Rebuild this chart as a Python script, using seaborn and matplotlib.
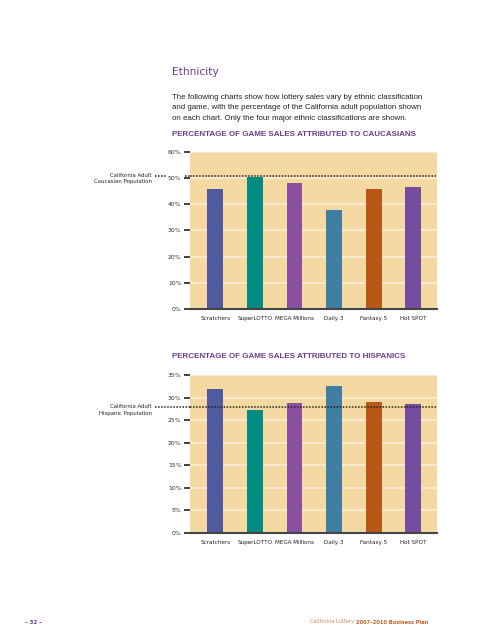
import numpy as np
import pandas as pd
import seaborn as sns
import matplotlib.pyplot as plt

games = ['Scratchers', 'SuperLOTTO', 'MEGA Millions', 'Daily 3', 'Fantasy 5', 'Hot SPOT']
caucasian_pct = [45.9, 50.4, 48.3, 38.0, 45.9, 46.8]
hispanic_pct = [31.9, 27.3, 28.7, 32.6, 29.1, 28.5]
caucasian_pop = 50.8
hispanic_pop = 27.8

colors = ['#4F5AA0', '#008C80', '#8A509F', '#3F7EA0', '#B85717', '#744DA0']
palette = dict(zip(games, colors))

purple = '#6A3D92'
bg = '#F5D9A2'
narrow = ['DejaVu Sans Condensed', 'DejaVu Sans']
regular = ['Liberation Sans', 'DejaVu Sans']

sns.set_theme(style='white')
plt.rcParams['font.family'] = narrow

fig = plt.figure(figsize=(4.95, 6.4), dpi=100)


def draw_chart(ax, values, pop, ymax, step, label):
    df = pd.DataFrame({'game': games, 'pct': values})
    sns.barplot(data=df, x='game', y='pct', hue='game', palette=palette,
                width=0.4, legend=False, ax=ax, saturation=1, linewidth=0)
    ax.set_facecolor(bg)
    ax.set_xlim(-0.64, 5.6)
    ax.set_ylim(0, ymax)
    ticks = np.arange(0, ymax + 0.1, step)
    ax.set_yticks(ticks)
    ax.set_yticklabels([f'{int(t)}%' for t in ticks])
    ax.set_axisbelow(True)
    ax.yaxis.grid(True, color='#FBEBD2', linewidth=1.3)
    ax.xaxis.grid(False)
    for s in ['top', 'right', 'left']:
        ax.spines[s].set_visible(False)
    ax.spines['bottom'].set_color('#444444')
    ax.spines['bottom'].set_linewidth(1.5)
    ax.tick_params(axis='y', direction='out', length=4, width=1.3, color='#333333',
                   labelsize=4.4, labelcolor='#333333', pad=2, left=True)
    ax.tick_params(axis='x', length=0, labelsize=4.1, labelcolor='#222222', pad=5)
    ax.set_xlabel('')
    ax.set_ylabel('')
    # population reference line, label's first line sits on it
    ax.axhline(pop, color='#222222', linestyle=(0, (1, 1)), linewidth=1.1)
    ax.annotate(label, xy=(-0.155, pop), xycoords=ax.get_yaxis_transform(),
                xytext=(0, 2.2), textcoords='offset points', ha='right', va='top',
                fontsize=3.9, color='#222222', linespacing=1.35)


ax1 = fig.add_axes([0.3838, 0.5172, 0.499, 0.2453])
draw_chart(ax1, caucasian_pct, caucasian_pop, 60, 10,
           'California Adult\nCaucasian Population')
ax1.plot([-0.142, -0.097], [caucasian_pop] * 2, transform=ax1.get_yaxis_transform(),
         color='#222222', linestyle=(0, (1, 1)), linewidth=1.1, clip_on=False)
ax1.plot([-0.02, 0], [caucasian_pop] * 2, transform=ax1.get_yaxis_transform(),
         color='#222222', linestyle=(0, (1, 1)), linewidth=1.1, clip_on=False)

ax2 = fig.add_axes([0.3838, 0.1672, 0.499, 0.2469])
draw_chart(ax2, hispanic_pct, hispanic_pop, 35, 5,
           'California Adult\nHispanic Population')
ax2.plot([-0.142, 0], [hispanic_pop] * 2, transform=ax2.get_yaxis_transform(),
         color='#222222', linestyle=(0, (1, 1)), linewidth=1.1, clip_on=False)

# page text
fig.text(172 / 495, 1 - 72 / 640, 'Ethnicity', fontsize=7.6, color=purple, va='center')
body = ('The following charts show how lottery sales vary by ethnic classification\n'
        'and game, with the percentage of the California adult population shown\n'
        'on each chart. Only the four major ethnic classifications are shown.')
fig.text(172 / 495, 1 - 119.5 / 640, body, fontsize=5.7, color='#222222', va='baseline',
         linespacing=1.64, family=regular)
fig.text(172 / 495, 1 - 135 / 640, 'PERCENTAGE OF GAME SALES ATTRIBUTED TO CAUCASIANS',
         fontsize=5.8, color=purple, fontweight='bold', va='center', family=regular)
fig.text(172 / 495, 1 - 357 / 640, 'PERCENTAGE OF GAME SALES ATTRIBUTED TO HISPANICS',
         fontsize=5.8, color=purple, fontweight='bold', va='center', family=regular)

# footer
fig.text(25 / 495, 1 - 622 / 640, '– 32 –', fontsize=4, color=purple, va='center',
         fontweight='bold')
bold_part = fig.text(428 / 495, 1 - 622 / 640, '2007–2010 Business Plan', fontsize=3.7,
                     color='#C0602A', fontweight='bold', va='center', ha='right')
fig.canvas.draw()
bb = bold_part.get_window_extent()
fig.text((bb.x0 - 1) / fig.bbox.width, 1 - 622 / 640, 'California Lottery', fontsize=3.7,
         color='#D08A55', va='center', ha='right')

fig.savefig('out.png', dpi=100)
